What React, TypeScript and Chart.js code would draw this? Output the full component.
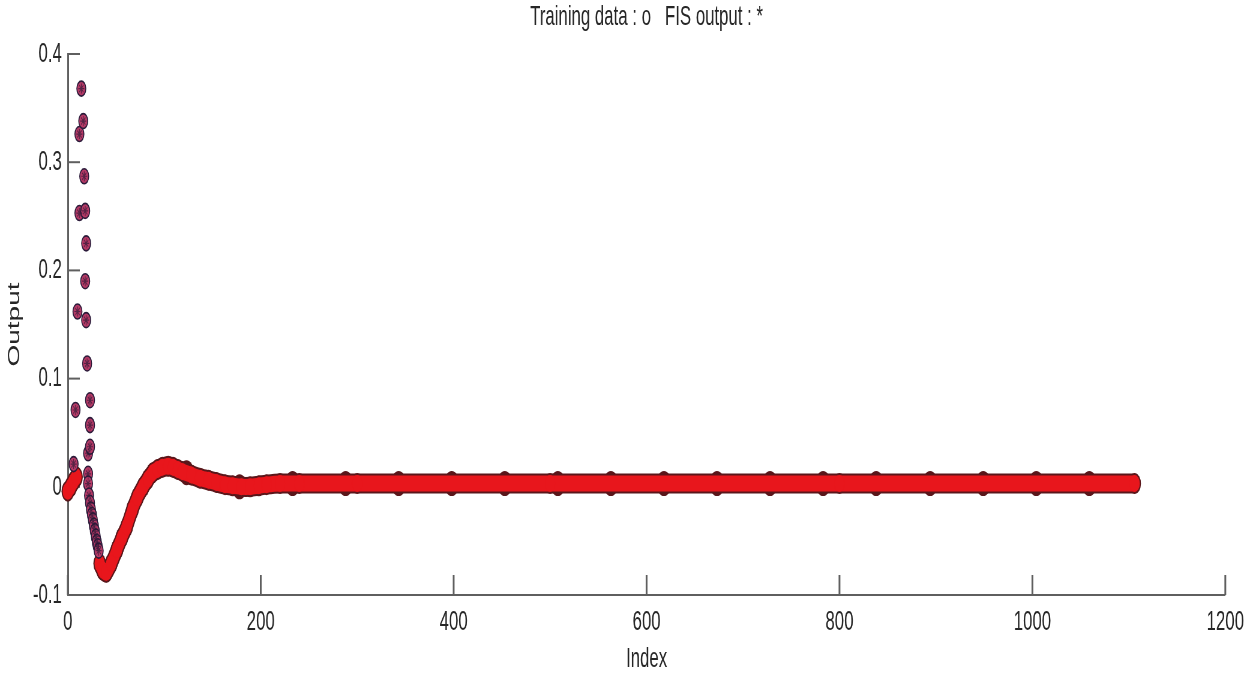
import React, { useEffect, useRef } from 'react';
import { Chart, registerables } from 'chart.js';

Chart.register(...registerables);

// The reference is horizontally squeezed (narrow glyphs, tall markers):
// draw on a wider canvas and display it at the page width.
const X_SQUEEZE = 0.6;
const VIEW_W = 1250;
const VIEW_H = 676;
const CANVAS_W = Math.round(VIEW_W / X_SQUEEZE);

const titleText = 'Training data : o   FIS output : *';
const xAxisTitle = 'Index';
const yAxisTitle = 'Output';
const xTickValues = [0, 200, 400, 600, 800, 1000, 1200];
const yTickValues = [-0.1, 0, 0.1, 0.2, 0.3, 0.4];

// first few samples (red blob at the origin)
const startIndex = [0, 3, 6, 9];
const startOutput = [-0.004, 0.0, 0.005, 0.009];

// scattered early samples (training data o / FIS output *)
const sparseIndex = [6, 8, 10, 12, 12, 14, 16, 17, 18, 18, 19, 19, 20, 21, 21, 21, 22, 23, 23, 23, 23, 24, 25, 26, 27, 28, 29, 30, 31, 32];
const sparseOutput = [0.021, 0.071, 0.162, 0.326, 0.253, 0.368, 0.338, 0.287, 0.255, 0.19, 0.225, 0.154, 0.114, 0.031, 0.012, 0.003, -0.008, 0.08, 0.057, 0.037, -0.015, -0.021, -0.026, -0.031, -0.036, -0.041, -0.046, -0.051, -0.055, -0.059];

// dense band of overlapping samples
const bandIndex = [33, 36, 40, 45, 51, 56, 61, 67, 72, 78, 83, 88, 93, 98, 104, 109, 114, 119, 128, 137, 146, 154, 163, 171, 180, 189, 198, 206, 220, 240, 300, 500, 800, 1106];
const bandOutput = [-0.071, -0.077, -0.079, -0.071, -0.058, -0.047, -0.037, -0.021, -0.01, 0.0, 0.007, 0.013, 0.016, 0.018, 0.019, 0.018, 0.016, 0.014, 0.011, 0.008, 0.006, 0.004, 0.002, 0.001, 0.0, 0.0, 0.001, 0.002, 0.003, 0.003, 0.003, 0.003, 0.003, 0.003];

// samples that stick out slightly above/below the band
const bumpIndex = [123, 178, 233, 288, 343, 398, 453, 508, 563, 618, 673, 728, 783, 838, 894, 949, 1004, 1059];
const bumpOutput = [0.013, 0.0, 0.003, 0.003, 0.003, 0.003, 0.003, 0.003, 0.003, 0.003, 0.003, 0.003, 0.003, 0.003, 0.003, 0.003, 0.003, 0.003];

const FONT = "'Liberation Sans', Arial, Helvetica, sans-serif";
const TEXT_COLOR = '#262626';
const AXIS_COLOR = '#5f5f5f';
const RED = '#e8161c';
const RED_EDGE = '#5a171b';

const toPoints = (xs: number[], ys: number[]) => xs.map((x, i) => ({ x, y: ys[i] }));

const inwardTicks = {
  id: 'inwardTicks',
  beforeDatasetsDraw(chart: any) {
    const { ctx, chartArea, scales } = chart;
    const xs = scales.x;
    const ys = scales.y;
    ctx.save();
    ctx.strokeStyle = AXIS_COLOR;
    ctx.lineWidth = 3;
    xs.ticks.forEach((t: any) => {
      const px = xs.getPixelForValue(t.value);
      ctx.beginPath();
      ctx.moveTo(px, chartArea.bottom);
      ctx.lineTo(px, chartArea.bottom - 20);
      ctx.stroke();
    });
    ctx.lineWidth = 2;
    ys.ticks.forEach((t: any) => {
      const py = ys.getPixelForValue(t.value);
      ctx.beginPath();
      ctx.moveTo(chartArea.left, py);
      ctx.lineTo(chartArea.left + 20, py);
      ctx.stroke();
    });
    ctx.restore();
  },
};

export default function App() {
  const canvasRef = useRef<HTMLCanvasElement | null>(null);

  useEffect(() => {
    const canvas = canvasRef.current;
    if (!canvas) return;

    const startPts = toPoints(startIndex, startOutput);
    const bandPts = toPoints(bandIndex, bandOutput);
    const joined = [...startPts, { x: 20, y: null as any }, ...bandPts];
    const sparsePts = toPoints(sparseIndex, sparseOutput);
    const bumpPts = toPoints(bumpIndex, bumpOutput);

    const chart = new Chart(canvas, {
      type: 'scatter',
      data: {
        datasets: [
          {
            label: 'bumps',
            data: bumpPts,
            pointStyle: 'circle',
            pointRadius: 12.5,
            backgroundColor: RED_EDGE,
            borderColor: RED_EDGE,
            borderWidth: 0,
            order: 4,
          },
          {
            label: 'band edge',
            data: joined,
            showLine: true,
            spanGaps: false,
            pointStyle: 'circle',
            pointRadius: 10.5,
            backgroundColor: RED_EDGE,
            pointBorderWidth: 0,
            borderColor: RED_EDGE,
            borderWidth: 20,
            borderCapStyle: 'round',
            borderJoinStyle: 'round',
            tension: 0.3,
            clip: false,
            order: 3,
          } as any,
          {
            label: 'FIS output band',
            data: joined,
            showLine: true,
            spanGaps: false,
            pointStyle: 'circle',
            pointRadius: 8.5,
            backgroundColor: RED,
            pointBorderWidth: 0,
            borderColor: RED,
            borderWidth: 16,
            borderCapStyle: 'round',
            borderJoinStyle: 'round',
            tension: 0.3,
            clip: false,
            order: 2,
          } as any,
          {
            label: 'Training data',
            data: sparsePts,
            pointStyle: 'circle',
            pointRadius: 7.5,
            backgroundColor: '#b63a66',
            borderColor: '#2b1b3a',
            borderWidth: 1.6,
            clip: false,
            order: 1,
          } as any,
          {
            label: 'FIS output',
            data: sparsePts,
            pointStyle: 'star',
            pointRadius: 5,
            backgroundColor: 'rgba(0,0,0,0)',
            borderColor: 'rgba(45,25,55,0.7)',
            borderWidth: 1.2,
            clip: false,
            order: 0,
          } as any,
        ],
      },
      options: {
        responsive: false,
        maintainAspectRatio: false,
        devicePixelRatio: 1,
        animation: false,
        events: [],
        layout: { padding: { left: 0, right: 40, top: 0, bottom: 0 } },
        plugins: {
          legend: { display: false },
          tooltip: { enabled: false },
          title: {
            display: true,
            text: titleText,
            fullSize: false,
            color: TEXT_COLOR,
            font: { family: FONT, size: 28, weight: 'normal', lineHeight: 1.2 },
            padding: { top: 0, bottom: 20.4 },
          },
        },
        scales: {
          x: {
            type: 'linear',
            min: 0,
            max: 1200,
            afterBuildTicks: (scale: any) => {
              scale.ticks = xTickValues.map((v) => ({ value: v }));
            },
            afterFit: (scale: any) => {
              scale.height = 81;
            },
            grid: { display: true, drawOnChartArea: false, drawTicks: false, color: 'rgba(0,0,0,0)' },
            border: { display: true, color: AXIS_COLOR, width: 2 },
            ticks: {
              padding: 10,
              maxRotation: 0,
              autoSkip: false,
              color: TEXT_COLOR,
              font: { family: FONT, size: 28 },
              callback: (v: any) => String(v),
            },
            title: {
              display: true,
              text: xAxisTitle,
              color: TEXT_COLOR,
              font: { family: FONT, size: 28, lineHeight: 1.2 },
              padding: { top: 0, bottom: 0 },
            },
          },
          y: {
            type: 'linear',
            min: -0.1,
            max: 0.4,
            afterBuildTicks: (scale: any) => {
              scale.ticks = yTickValues.map((v) => ({ value: v }));
            },
            afterFit: (scale: any) => {
              scale.width = 113;
            },
            grid: { display: true, drawOnChartArea: false, drawTicks: false, color: 'rgba(0,0,0,0)' },
            border: { display: true, color: AXIS_COLOR, width: 3 },
            ticks: {
              padding: 10,
              autoSkip: false,
              color: TEXT_COLOR,
              font: { family: FONT, size: 28 },
              callback: (v: any) => String(Number(Number(v).toFixed(1))),
            },
            title: {
              display: true,
              text: yAxisTitle,
              color: TEXT_COLOR,
              font: { family: FONT, size: 28, lineHeight: 1.2 },
              padding: { top: 7, bottom: 0 },
            },
          },
        },
      } as any,
      plugins: [inwardTicks],
    });

    return () => {
      chart.destroy();
    };
  }, []);

  return (
    <canvas
      ref={canvasRef}
      width={CANVAS_W}
      height={VIEW_H}
      style={{ position: 'absolute', left: 0, top: 0, width: `${VIEW_W}px`, height: `${VIEW_H}px` }}
    />
  );
}
